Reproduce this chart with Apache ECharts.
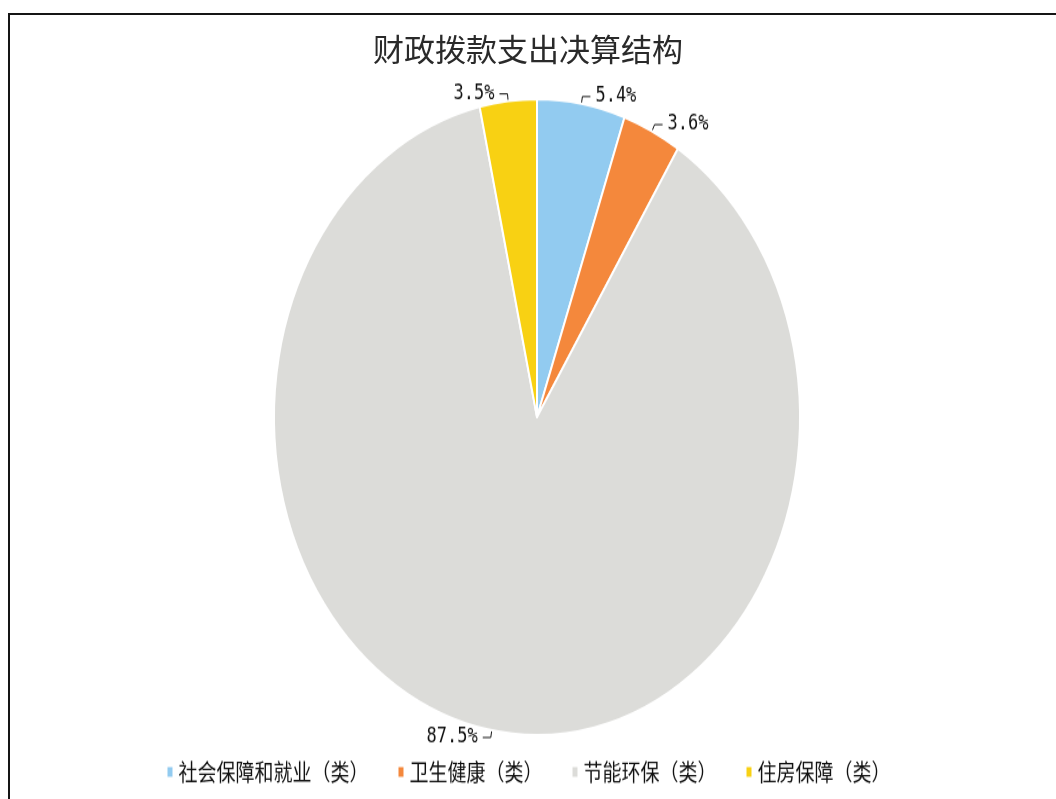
<!DOCTYPE html>
<html>
<head>
<meta charset="utf-8">
<script src="https://cdn.jsdelivr.net/npm/echarts@6/dist/echarts.min.js"></script>
<style>
  html, body { margin: 0; padding: 0; width: 1056px; height: 799px; overflow: hidden; background: #fff; }
  #frame { position: absolute; left: 8px; top: 13px; width: 1100px; height: 820px; border: 2px solid #151515; box-sizing: border-box; }
  #pie { position: absolute; left: 0; top: 0; width: 1056px; height: 661px; transform: scaleY(1.209); transform-origin: 0 0; }
  #head { position: absolute; left: 0; top: 0; width: 1056px; height: 799px; pointer-events: none; }
</style>
</head>
<body>
<div id="frame"></div>
<div id="pie"></div>
<div id="head"></div>
<script>
const titleText = '财政拨款支出决算结构';
const categories = ['社会保障和就业（类）', '卫生健康（类）', '节能环保（类）', '住房保障（类）'];
const values = [5.4, 3.6, 87.5, 3.5];
const palette = ['#92cbf0', '#f4883c', '#dcdcd9', '#f8d113'];

const FONT = '"Noto Sans CJK SC", "Noto Sans", sans-serif';

const pieChart = echarts.init(document.getElementById('pie'), null, { renderer: 'canvas' });
pieChart.setOption({
  animation: false,
  color: palette,
  legend: {
    data: categories,
    bottom: 8,
    left: 'center',
    itemWidth: 7,
    itemHeight: 10,
    itemGap: 28,
    icon: 'rect',
    textStyle: { fontFamily: FONT, fontSize: 19, color: '#111' }
  },
  series: [{
    type: 'pie',
    center: [537, 345],
    radius: [0, 263],
    startAngle: 90,
    clockwise: true,
    avoidLabelOverlap: false,
    itemStyle: { borderColor: '#ffffff', borderWidth: 2 },
    label: {
      show: true,
      position: 'outside',
      formatter: '{c}%',
      fontFamily: '"DejaVu Sans Mono", monospace',
      fontSize: 17,
      color: '#111'
    },
    labelLine: { show: true, length: 6, length2: 8, lineStyle: { color: '#111', width: 1 } },
    data: categories.map((name, i) => ({ name: name, value: values[i] }))
  }]
});

const headChart = echarts.init(document.getElementById('head'), null, { renderer: 'canvas' });
headChart.setOption({
  animation: false,
  title: {
    text: titleText,
    left: 'center',
    top: 29,
    textStyle: { fontFamily: FONT, fontSize: 31, fontWeight: 'normal', color: '#2a2a2a' }
  }
});
</script>
</body>
</html>
